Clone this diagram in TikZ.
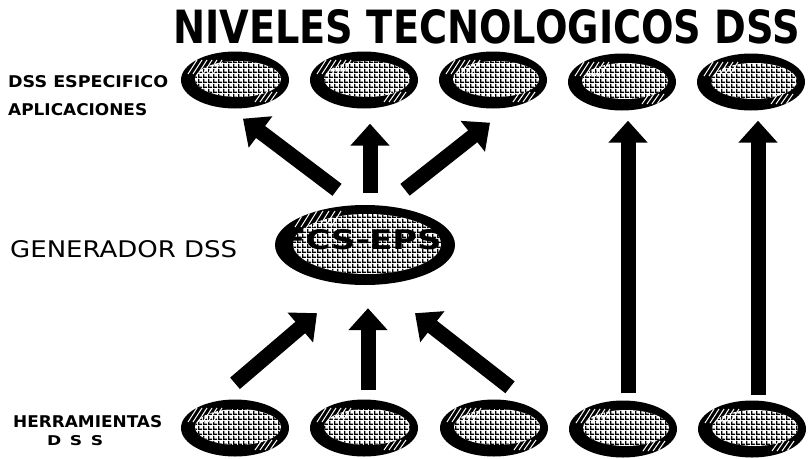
\documentclass[tikz,border=0pt]{standalone}
\usepackage{fontspec}
\usepackage{graphicx}
\setmainfont{DejaVu Sans}
\usetikzlibrary{shapes.geometric,arrows.meta,calc,patterns.meta}
\tikzdeclarepattern{
  name=pixgrid,
  type=uncolored,
  bounding box={(0pt,0pt) and (4.5pt,4.5pt)},
  tile size={(4.5pt,4.5pt)},
  code={
    \fill (0pt,0pt) rectangle (4.5pt,1.5pt);
    \fill (0pt,0pt) rectangle (1.5pt,4.5pt);
  }
}
\begin{document}
\begin{tikzpicture}[x=1pt,y=-1pt,
  blob/.style={ellipse, minimum width=108pt, minimum height=57pt, inner sep=0pt, fill=black,
    path picture={
      \fill[white] ([xshift=3pt,yshift=1pt]path picture bounding box.center) ellipse [x radius=43pt, y radius=18pt];
      \fill[pattern=pixgrid, pattern color=black] ([xshift=3pt,yshift=1pt]path picture bounding box.center) ellipse [x radius=43pt, y radius=18pt];
      \foreach \k in {0,...,5}{
        \draw[white, line width=1pt] ([xshift=-47pt+\k*5pt,yshift=6pt]path picture bounding box.center) -- ++(9pt,14pt);
      }
      \foreach \k in {0,...,3}{
        \draw[white, line width=1pt] ([xshift=20pt+\k*5pt,yshift=-22pt]path picture bounding box.center) -- ++(7pt,10pt);
      }
    }},
  bigblob/.style={ellipse, minimum width=180pt, minimum height=80pt, inner sep=0pt, fill=black,
    path picture={
      \fill[white] ([xshift=2pt,yshift=1pt]path picture bounding box.center) ellipse [x radius=74pt, y radius=30pt];
      \fill[pattern=pixgrid, pattern color=black] ([xshift=2pt,yshift=1pt]path picture bounding box.center) ellipse [x radius=74pt, y radius=30pt];
      \foreach \k in {0,...,6}{
        \draw[white, line width=1pt] ([xshift=-70pt+\k*6pt,yshift=18pt]path picture bounding box.center) -- ++(10pt,16pt);
      }
    }},
  arr/.style={line width=15pt, -{Triangle[width=38pt,length=22pt]}},
  lbl/.style={inner sep=0pt, anchor=north west}]
\useasboundingbox (0,0) rectangle (808,458);
% title
\node[lbl] (title) at (173,9) {\resizebox{627pt}{34pt}{\bfseries NIVELES TECNOLOGICOS DSS}};
% labels
\node[lbl] (lab1) at (8,75) {\resizebox{160pt}{12pt}{\bfseries DSS ESPECIFICO}};
\node[lbl] (lab2) at (8,103) {\resizebox{139pt}{12pt}{\bfseries APLICACIONES}};
\node[lbl] (lab3) at (10,240) {\resizebox{227pt}{17pt}{GENERADOR DSS}};
\node[lbl] (lab4) at (13,415) {\resizebox{149pt}{12pt}{\bfseries HERRAMIENTAS}};
\node[lbl] (lab5) at (47,435) {\resizebox{56pt}{10pt}{\bfseries D\,\,\,S\,\,\,S}};
% top ellipses
\node[blob] (top1) at (235,80) {};
\node[blob] (top2) at (364,80) {};
\node[blob] (top3) at (493,80) {};
\node[blob] (top4) at (622,82) {};
\node[blob] (top5) at (751,82) {};
% generator
\node[bigblob] (gen) at (365,245) {};
\node[inner sep=0pt] (gentext) at (362,240) {\resizebox{159pt}{20pt}{\bfseries FCS-EPS}};
% bottom ellipses
\node[blob] (bot1) at (235,428) {};
\node[blob] (bot2) at (364,428) {};
\node[blob] (bot3) at (494,428) {};
\node[blob] (bot4) at (623,429) {};
\node[blob] (bot5) at (752,429) {};
% arrows
\draw[arr] ($(gen.north)+(-28,-15)$) -- ($(top1.south)+(8,10)$);
\draw[arr] ($(gen.north)+(5,-12)$) -- ($(top2.south)+(6,15)$);
\draw[arr] ($(gen.north)+(40,-15)$) -- ($(top3.south)+(-3,14)$);
\draw[arr] ($(bot4.north)+(5,-7)$) -- ($(top4.south)+(6,10)$);
\draw[arr] ($(bot5.north)+(6,-5)$) -- ($(top5.south)+(7,10)$);
\draw[arr] ($(bot1.north)+(0,-16)$) -- ($(gen.south)+(-48,28)$);
\draw[arr] ($(bot2.north)+(4,-9)$) -- ($(gen.south)+(3,23)$);
\draw[arr] ($(bot3.north)+(16,-12)$) -- ($(gen.south)+(50,28)$);
\end{tikzpicture}
\end{document}
